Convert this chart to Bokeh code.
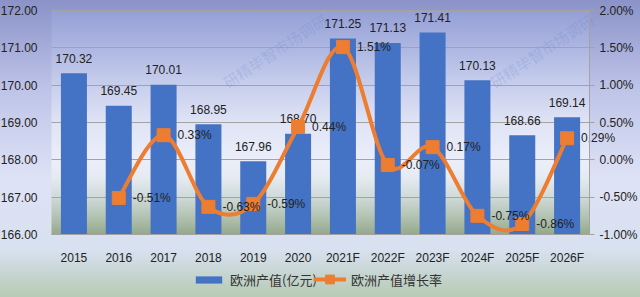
import numpy as np
from bokeh.plotting import figure
from bokeh.models import (Range1d, LinearAxis, FixedTicker, Legend, LegendItem,
                          PrintfTickFormatter, Label)
from bokeh.embed import file_html
from bokeh.resources import INLINE
from bokeh.core.properties import value

# ---------------- data ----------------
years = ["2015", "2016", "2017", "2018", "2019", "2020",
         "2021F", "2022F", "2023F", "2024F", "2025F", "2026F"]
output = [170.32, 169.45, 170.01, 168.95, 167.96, 168.70,
          171.25, 171.13, 171.41, 170.13, 168.66, 169.14]
growth_years = years[1:]
growth = [-0.51, 0.33, -0.63, -0.59, 0.44, 1.51, -0.07, 0.17, -0.75, -0.86, 0.29]
left_ticks = [166, 167, 168, 169, 170, 171, 172]
right_ticks = [-1.0, -0.5, 0.0, 0.5, 1.0, 1.5, 2.0]
bar_name = "欧洲产值(亿元)"
line_name = "欧洲产值增长率"
watermark = "研精毕智市场调研"

FONT = "Liberation Sans"
CJK = "Noto Sans CJK SC"
BAR = "#4472C4"
ORANGE = "#ED7D31"
TXT = "#222222"
GRID = "#a3a3a3"

# page / plot-box geometry in pixels
W, H = 640, 297
PL, PR, PT, PB = 51, 589, 10, 234   # plot box edges

ncat = len(years)
ux = (PR - PL) / ncat                                   # px per category
uy = (PB - PT) / (left_ticks[-1] - left_ticks[0])       # px per unit, left
up = (PB - PT) / (right_ticks[-1] - right_ticks[0])     # px per unit, right
xr = Range1d(-PL / ux, ncat + (W - PR) / ux)
yr = Range1d(left_ticks[0] - (H - PB) / uy, left_ticks[-1] + PT / uy)
pr = Range1d(right_ticks[0] - (H - PB) / up, right_ticks[-1] + PT / up)

p = figure(width=W, height=H, output_backend="svg", toolbar_location=None, title=None,
           x_range=xr, y_range=yr, min_border=0,
           min_border_left=0, min_border_right=0, min_border_top=0, min_border_bottom=0)
p.extra_y_ranges = {"pct": pr}
p.outline_line_color = None
p.background_fill_alpha = 0
p.border_fill_alpha = 0
p.styles = {"background": "linear-gradient(to bottom, rgb(138,146,200) 0%, rgb(190,196,232) 30%, "
                          "rgb(222,226,246) 60%, rgb(216,225,240) 84%, rgb(182,202,180) 100%)"}

# plot-area gradient (styling only)
stops_y = [0.0, 0.17, 0.33, 0.5, 0.67, 0.75, 0.83, 0.92, 1.0]  # from top to bottom
stops_c = [(150, 160, 214), (175, 184, 226), (200, 207, 237), (224, 228, 246),
           (236, 239, 250), (230, 235, 242), (210, 220, 218), (180, 196, 180), (150, 170, 140)]
N = 224
t = np.linspace(1.0, 0.0, N)  # row 0 = bottom
rgba = np.zeros((N, 1), dtype=np.uint32)
view = rgba.view(dtype=np.uint8).reshape((N, 1, 4))
for k in range(3):
    view[:, 0, k] = np.interp(t, stops_y, [c[k] for c in stops_c]).astype(np.uint8)
view[:, 0, 3] = 255
p.image_rgba(image=[rgba], x=0, y=left_ticks[0], dw=ncat,
             dh=left_ticks[-1] - left_ticks[0], level="image")

# watermarks (screen px, from bottom-left of the canvas)
for cx, cy in [(230, 92), (497, 92)]:
    p.add_layout(Label(x=cx, y=H - cy, x_units="screen", y_units="screen",
                       text=watermark, angle=0.58, text_font=CJK, text_font_size="15px",
                       text_color="#5b7fcf", text_alpha=0.22, level="underlay"))

# axes
xpos = [i + 0.5 for i in range(ncat)]
xa = p.xaxis[0]
xa.fixed_location = left_ticks[0]
xa.bounds = (0, ncat)
xa.ticker = FixedTicker(ticks=xpos)
xa.major_label_overrides = {x: y for x, y in zip(xpos, years)}
xa.axis_line_color = GRID
xa.major_tick_line_color = None
xa.minor_tick_line_color = None
xa.major_label_standoff = 10
xa.major_label_text_font = FONT
xa.major_label_text_font_size = "12px"
xa.major_label_text_color = TXT

ya = p.yaxis[0]
ya.fixed_location = 0
ya.ticker = FixedTicker(ticks=left_ticks)
ya.formatter = PrintfTickFormatter(format="%.2f")
ya.axis_line_color = None
ya.major_tick_line_color = None
ya.minor_tick_line_color = None
ya.major_label_standoff = 8
ya.major_label_text_font = FONT
ya.major_label_text_font_size = "12px"
ya.major_label_text_color = TXT

ra = LinearAxis(y_range_name="pct", ticker=FixedTicker(ticks=right_ticks),
                formatter=PrintfTickFormatter(format="%.2f%%"),
                fixed_location=ncat, bounds=(right_ticks[0], right_ticks[-1]))
ra.axis_line_color = GRID
ra.major_tick_line_color = GRID
ra.major_tick_out = 5
ra.major_tick_in = 0
ra.minor_tick_line_color = None
ra.major_label_standoff = 5
ra.major_label_text_font = FONT
ra.major_label_text_font_size = "12px"
ra.major_label_text_color = TXT
p.add_layout(ra, "right")

p.xgrid.grid_line_color = None
p.ygrid.ticker = FixedTicker(ticks=left_ticks)
p.ygrid.cross_bounds = (0, ncat)
p.ygrid.grid_line_color = GRID
p.ygrid.grid_line_width = 1

# bars
bars = p.vbar(x=xpos, top=output, bottom=left_ticks[0], width=0.58,
              fill_color=BAR, line_color=None)
p.text(x=xpos, y=output, text=[f"{v:.2f}" for v in output], text_align="center",
       text_baseline="middle", y_offset=-15, text_font=value(FONT),
       text_font_size="12px", text_color=TXT)

# smooth line (bezier through the data points)
gx = [years.index(y) + 0.5 for y in growth_years]
P = np.column_stack([gx, growth]).astype(float)
n = len(P)
x0s, y0s, x1s, y1s, c0x, c0y, c1x, c1y = [], [], [], [], [], [], [], []
for i in range(n - 1):
    q0 = P[i - 1] if i > 0 else P[i]
    q1 = P[i]
    q2 = P[i + 1]
    q3 = P[i + 2] if i + 2 < n else P[i + 1]
    a = q1 + (q2 - q0) / 6.0
    b = q2 - (q3 - q1) / 6.0
    x0s.append(q1[0]); y0s.append(q1[1]); x1s.append(q2[0]); y1s.append(q2[1])
    c0x.append(a[0]); c0y.append(a[1]); c1x.append(b[0]); c1y.append(b[1])
p.bezier(x0=x0s, y0=y0s, x1=x1s, y1=y1s, cx0=c0x, cy0=c0y, cx1=c1x, cy1=c1y,
         line_color=ORANGE, line_width=4, y_range_name="pct")
legend_line = p.line(x=[np.nan], y=[np.nan], line_color=ORANGE, line_width=4,
                     y_range_name="pct")
marks = p.scatter(x=gx, y=growth, marker="square", size=13, fill_color=ORANGE,
                  line_color=ORANGE, y_range_name="pct")
p.text(x=gx, y=growth, text=[f"{v:.2f}%" for v in growth], text_align="left",
       text_baseline="middle", x_offset=14, text_font=value(FONT),
       text_font_size="12px", text_color=TXT, y_range_name="pct")

common = dict(orientation="horizontal", background_fill_alpha=0, border_line_color=None,
              label_text_font=CJK, label_text_font_size="13px", label_text_color="#333333",
              glyph_width=33, label_standoff=5, spacing=0, padding=0, margin=0)
leg1 = Legend(items=[LegendItem(label=bar_name, renderers=[bars])],
              location=(192, 8), glyph_height=9, **common)
leg2 = Legend(items=[LegendItem(label=line_name, renderers=[legend_line, marks])],
              location=(313, 7), glyph_height=22, **common)
p.add_layout(leg1)
p.add_layout(leg2)

open("out.html", "w").write(file_html(p, INLINE))
